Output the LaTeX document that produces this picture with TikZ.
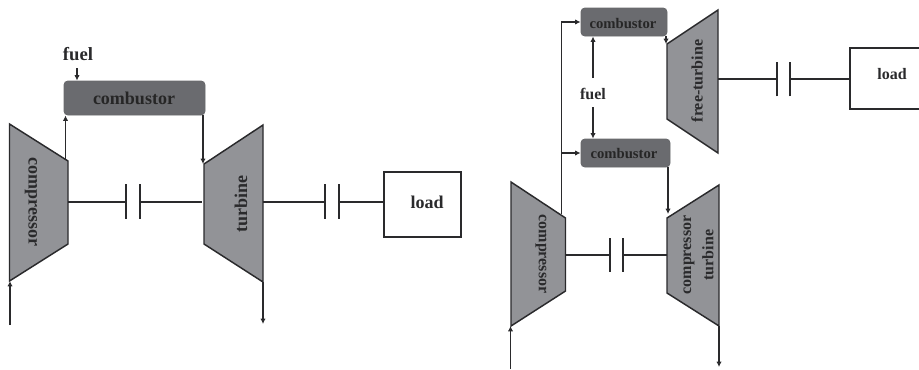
\documentclass[tikz,border=0pt]{standalone}
\usepackage{fontspec}
\setmainfont{Liberation Serif}
\usetikzlibrary{arrows.meta}
\definecolor{tfill}{HTML}{929397}
\definecolor{cfill}{HTML}{6A6B6F}
\definecolor{ink}{HTML}{2A2A2C}
\tikzset{
  x=0.75pt,y=-0.75pt,
  every node/.style={font=\bfseries,text=ink,inner sep=0pt},
  machine/.style={draw=ink,fill=tfill,line width=1.1pt,line join=miter},
  burner/.style={draw=tfill!60!ink,fill=cfill,rounded corners=3pt,line width=0.7pt,inner sep=0pt},
  loadbox/.style={draw=ink,fill=white,line width=1.4pt,inner sep=0pt},
  shaft/.style={draw=ink,line width=1.5pt},
  pipe/.style={draw=ink,line width=0.9pt},
  flow/.style={pipe,-{Latex[length=4pt,width=4pt]}},
  big/.style={font=\fontsize{13.5pt}{14pt}\selectfont\bfseries},
  small/.style={font=\fontsize{12pt}{13pt}\selectfont\bfseries},
}
\begin{document}
\begin{tikzpicture}
\useasboundingbox (0,0) rectangle (919,369);
% ---------- left plant ----------
\coordinate (cA) at (9.5,124); \coordinate (cB) at (68,161); \coordinate (cC) at (68,244); \coordinate (cD) at (9.5,281);
\coordinate (tA) at (204,164); \coordinate (tB) at (263,125); \coordinate (tC) at (263,282); \coordinate (tD) at (204,244);
\draw[machine] (cA)--(cB)--(cC)--(cD)--cycle;
\draw[machine] (tA)--(tB)--(tC)--(tD)--cycle;
\node[rotate=-90,big] (compL) at (31,202) {compressor};
\node[rotate=90,big] (turbL) at (241,204) {turbine};
\node[burner,minimum width=105.75pt,minimum height=25.5pt] (burnL) at (134.5,98) {};
\node[big,text=black!85] (burnLt) at (134,98.5) {combustor};
\node[loadbox,minimum width=57.75pt,minimum height=48.75pt,anchor=north west] (loadL) at (383,171) {};
\node[big] (loadLt) at (427,202) {load};
\node[big,font=\fontsize{14pt}{15pt}\selectfont\bfseries] (fuelL) at (78,54) {fuel};
\coordinate (fuelLs) at (77,68);
\coordinate (pipeA) at (65.5,160);
\coordinate (pipeB) at (203,115);
\coordinate (pipeBe) at (203,164);
\coordinate (inL) at (10,325); \coordinate (inLe) at (10,281);
\coordinate (outL) at (263,282); \coordinate (outLe) at (263,324);
\draw[flow] (fuelLs) -- (fuelLs |- burnL.north);
\draw[flow] (pipeA) -- (pipeA |- burnL.south);
\draw[flow] (pipeB) -- (pipeBe);
\draw[flow] (inL) -- (inLe);
\draw[flow] (outL) -- (outLe);
\coordinate (s1a) at (68,202); \coordinate (s1b) at (125.5,202); \coordinate (s1c) at (139.5,202); \coordinate (s1d) at (202,202);
\draw[shaft] (s1a)--(s1b) (s1c)--(s1d);
\draw[shaft] ([yshift=-12.5pt]s1b)--([yshift=13.5pt]s1b) ([yshift=-12.5pt]s1c)--([yshift=13.5pt]s1c);
\coordinate (s2a) at (263,202); \coordinate (s2b) at (325,202); \coordinate (s2c) at (339,202);
\draw[shaft] (s2a)--(s2b) (s2c)--(s2c -| loadL.west);
\draw[shaft] ([yshift=-12.5pt]s2b)--([yshift=13.5pt]s2b) ([yshift=-12.5pt]s2c)--([yshift=13.5pt]s2c);
% ---------- right plant ----------
\coordinate (rcA) at (511,182); \coordinate (rcB) at (565.5,218); \coordinate (rcC) at (565.5,291); \coordinate (rcD) at (511,326);
\coordinate (rtA) at (667,218); \coordinate (rtB) at (719,185); \coordinate (rtC) at (719,326); \coordinate (rtD) at (667,293);
\coordinate (ftA) at (667,44); \coordinate (ftB) at (718,10); \coordinate (ftC) at (718,153); \coordinate (ftD) at (667,119);
\draw[machine] (rcA)--(rcB)--(rcC)--(rcD)--cycle;
\draw[machine] (rtA)--(rtB)--(rtC)--(rtD)--cycle;
\draw[machine] (ftA)--(ftB)--(ftC)--(ftD)--cycle;
\node[rotate=-90,small] (compR) at (541,254) {compressor};
\node[rotate=90,small] (ctR1) at (689,255) {compressor};
\node[rotate=90,small] (ctR2) at (708,255) {turbine};
\node[rotate=90,small] (ftR) at (697,81) {free-turbine};
\node[burner,minimum width=64.5pt,minimum height=21pt] (burnU) at (624,22) {};
\node[small,font=\fontsize{11pt}{12pt}\selectfont\bfseries,text=black!85] (burnUt) at (623,23) {combustor};
\node[burner,minimum width=66.75pt,minimum height=21pt] (burnD) at (625.5,153) {};
\node[small,font=\fontsize{11pt}{12pt}\selectfont\bfseries,text=black!85] (burnDt) at (624,153.5) {combustor};
\node[loadbox,minimum width=52.5pt,minimum height=45.75pt,anchor=north west] (loadR) at (849,47) {};
\node[small] (loadRt) at (892,74) {load};
\node[small] (fuelR) at (593,94) {fuel};
\coordinate (fU) at (593,78); \coordinate (fD) at (593,107);
\draw[flow] (fU) -- (fU |- burnU.south);
\draw[flow] (fD) -- (fD |- burnD.north);
\coordinate (main) at (561.5,214);
\draw[flow] (main) |- (burnU.west);
\draw[flow] (main |- burnD.west) -- (burnD.west);
\coordinate (o1) at (666,36); \coordinate (o1e) at (666,44);
\draw[flow] (o1) -- (o1e);
\coordinate (o2) at (668,167); \coordinate (o2e) at (668,214);
\draw[flow] (o2) -- (o2e);
\coordinate (inR) at (510.5,369); \coordinate (inRe) at (510.5,326);
\coordinate (outR) at (719,326); \coordinate (outRe) at (719,367);
\draw[flow] (inR) -- (inRe);
\draw[flow] (outR) -- (outRe);
\coordinate (s3a) at (566,255); \coordinate (s3b) at (610,255); \coordinate (s3c) at (623,255); \coordinate (s3d) at (667,255);
\draw[shaft] (s3a)--(s3b) (s3c)--(s3d);
\draw[shaft] ([yshift=-12.5pt]s3b)--([yshift=13pt]s3b) ([yshift=-12.5pt]s3c)--([yshift=13pt]s3c);
\coordinate (s4a) at (718,79); \coordinate (s4b) at (777,79); \coordinate (s4c) at (790,79);
\draw[shaft] (s4a)--(s4b) (s4c)--(s4c -| loadR.west);
\draw[shaft] ([yshift=-13pt]s4b)--([yshift=13pt]s4b) ([yshift=-13pt]s4c)--([yshift=13pt]s4c);
\end{tikzpicture}
\end{document}
